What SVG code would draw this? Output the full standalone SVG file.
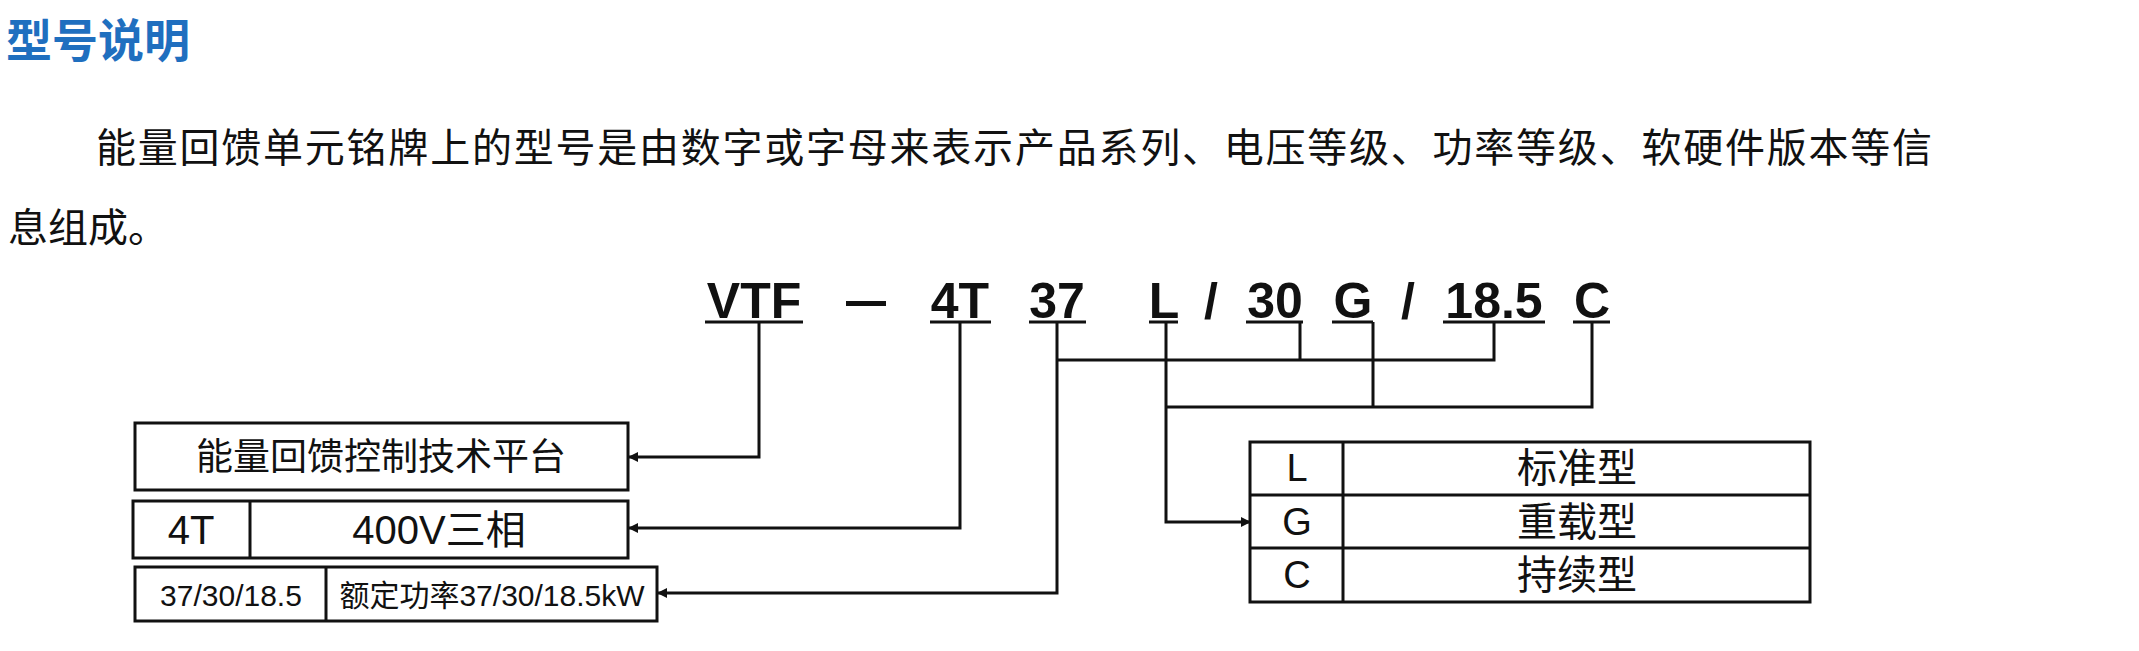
<svg xmlns="http://www.w3.org/2000/svg" width="2139" height="651" viewBox="0 0 2139 651">
<style>
text{font-family:"Liberation Sans","Noto Sans CJK SC",sans-serif;fill:#111}
.code{font-size:50px;font-weight:bold;text-anchor:middle}
.box{fill:none;stroke:#111;stroke-width:3}
.ln{fill:none;stroke:#111;stroke-width:3}
.c{text-anchor:middle;dominant-baseline:central}
</style>
<defs>
<marker id="ah" markerWidth="10" markerHeight="10" refX="9" refY="5" orient="auto" markerUnits="userSpaceOnUse" viewBox="0 0 10 10">
<path d="M0,0 L10,5 L0,10 z" fill="#111"/>
</marker>
</defs>
<rect width="2139" height="651" fill="#fff"/>
<g id="title"><text x="6" y="57" style="font-size:46px;font-weight:bold;fill:#1f6fbf">型号说明</text></g>
<g id="para">
<text x="96" y="162" style="font-size:40px" textLength="1836" lengthAdjust="spacing">能量回馈单元铭牌上的型号是由数字或字母来表示产品系列、电压等级、功率等级、软硬件版本等信</text>
<text x="8" y="242" style="font-size:40px">息组成。</text>
</g>
<g id="code">
<text class="code" x="754" y="318">VTF</text>
<rect x="846" y="301" width="40" height="5" fill="#111"/>
<text class="code" x="960" y="318">4T</text>
<text class="code" x="1057" y="318">37</text>
<text class="code" x="1164" y="318">L</text>
<text class="code" x="1211" y="318">/</text>
<text class="code" x="1275" y="318">30</text>
<text class="code" x="1353" y="318">G</text>
<text class="code" x="1408" y="318">/</text>
<text class="code" x="1494" y="318">18.5</text>
<text class="code" x="1592" y="318">C</text>
<g class="ln">
<line x1="705" y1="322" x2="803" y2="322"/>
<line x1="930" y1="322" x2="991" y2="322"/>
<line x1="1029" y1="322" x2="1086" y2="322"/>
<line x1="1149" y1="322" x2="1178" y2="322"/>
<line x1="1246" y1="322" x2="1303" y2="322"/>
<line x1="1332" y1="322" x2="1373" y2="322"/>
<line x1="1443" y1="322" x2="1545" y2="322"/>
<line x1="1573" y1="322" x2="1610" y2="322"/>
</g>
</g>
<g id="connectors" class="ln">
<path d="M759,322 V457 H629" marker-end="url(#ah)"/>
<path d="M960,322 V528 H629" marker-end="url(#ah)"/>
<path d="M1057,322 V593 H658" marker-end="url(#ah)"/>
<path d="M1057,360 H1494 V322 M1300,322 V360"/>
<path d="M1166,322 V522 H1250" marker-end="url(#ah)"/>
<path d="M1166,407 H1592 V322 M1373,322 V407"/>
</g>
<style>marker path{stroke:none}</style>
<g id="platform">
<rect class="box" x="135" y="423" width="493" height="67"/>
<text class="c" x="381" y="457" style="font-size:37px">能量回馈控制技术平台</text>
</g>
<g id="voltage">
<rect class="box" x="133" y="501" width="495" height="57"/>
<line class="ln" x1="250" y1="501" x2="250" y2="558"/>
<text class="c" x="191" y="530" style="font-size:40px">4T</text>
<text class="c" x="439" y="530" style="font-size:40px">400V三相</text>
</g>
<g id="power">
<rect class="box" x="135" y="567" width="522" height="54"/>
<line class="ln" x1="326" y1="567" x2="326" y2="621"/>
<text class="c" x="231" y="595" style="font-size:30px">37/30/18.5</text>
<text class="c" x="492" y="595" style="font-size:30px">额定功率37/30/18.5kW</text>
</g>
<g id="type">
<rect class="box" x="1250" y="442" width="560" height="160"/>
<line class="ln" x1="1250" y1="495" x2="1810" y2="495"/>
<line class="ln" x1="1250" y1="548" x2="1810" y2="548"/>
<line class="ln" x1="1343" y1="442" x2="1343" y2="602"/>
<text class="c" x="1297" y="468" style="font-size:38px">L</text>
<text class="c" x="1297" y="522" style="font-size:38px">G</text>
<text class="c" x="1297" y="575" style="font-size:38px">C</text>
<text class="c" x="1577" y="468" style="font-size:40px">标准型</text>
<text class="c" x="1577" y="522" style="font-size:40px">重载型</text>
<text class="c" x="1577" y="575" style="font-size:40px">持续型</text>
</g>
</svg>
